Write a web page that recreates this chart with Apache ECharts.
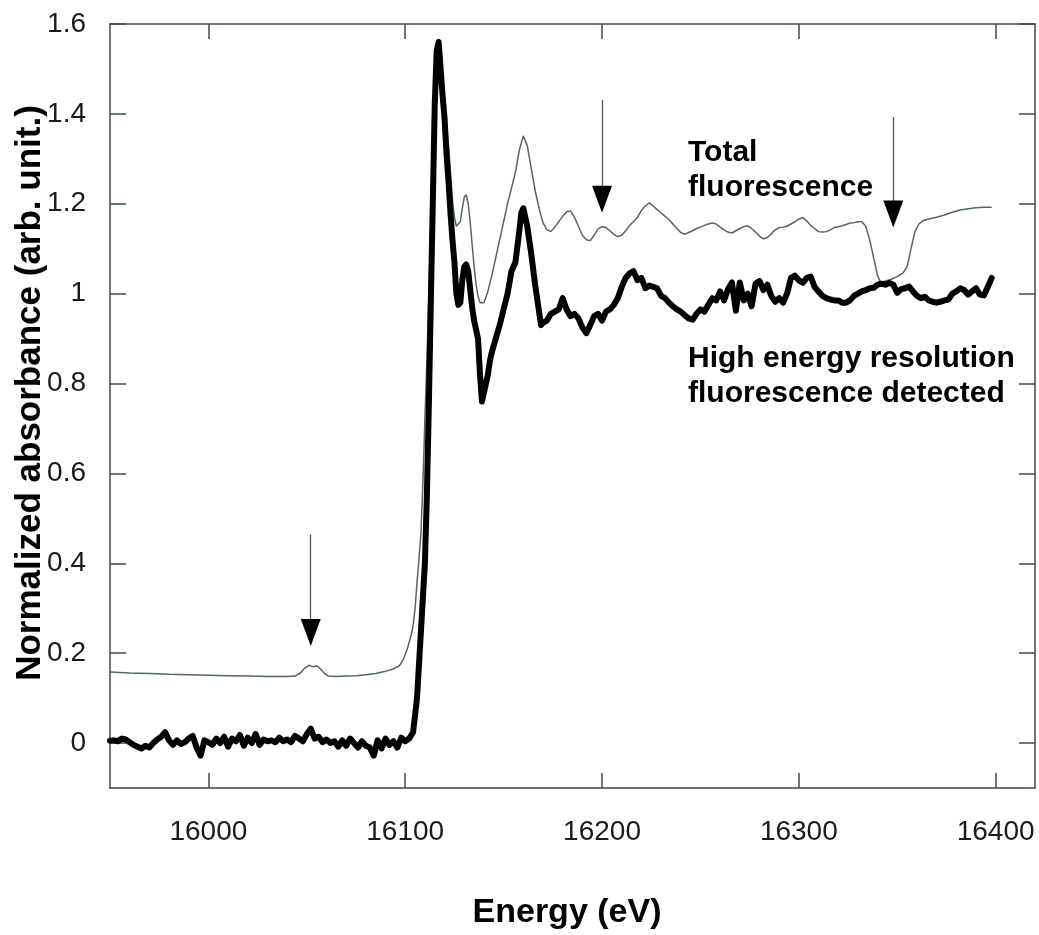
<!DOCTYPE html>
<html>
<head>
<meta charset="utf-8">
<script src="https://cdn.jsdelivr.net/npm/echarts@6/dist/echarts.min.js"></script>
<style>
html,body{margin:0;padding:0;background:#fff;}
#chart{width:1039px;height:935px;}
</style>
</head>
<body>
<div id="chart"></div>
<script>
// ---- data ----
const xTicks = [16000, 16100, 16200, 16300, 16400];
const xTickLabels = ['16000', '16100', '16200', '16300', '16400'];
const yTicks = [0, 0.2, 0.4, 0.6, 0.8, 1, 1.2, 1.4, 1.6];
const yTickLabels = ['0', '0.2', '0.4', '0.6', '0.8', '1', '1.2', '1.4', '1.6'];

// Total fluorescence (thin line)
const totalE = [15950,15960,15970,15980,15990,16000,16010,16020,16030,16040,16044,16047,16049,16051,16053,16055,16057,16059,16061,16065,16070,16075,16080,16085,16090,16094,16097,16099,16101,16103,16104,16105,16106,16107,16108,16109,16110,16111,16112,16113,16114,16115,16116,16117,16118,16119,16120,16121,16122,16123,16124,16125,16126,16127,16128,16129,16130,16131,16132,16133,16134,16135,16136,16137,16138,16139,16140,16142,16144,16146,16148,16150,16152,16154,16156,16158,16160,16161,16162,16164,16166,16168,16170,16172,16174,16176,16178,16180,16182,16184,16186,16188,16190,16192,16194,16196,16198,16200,16202,16204,16206,16208,16210,16212,16214,16216,16218,16220,16222,16224,16226,16228,16230,16232,16234,16236,16238,16240,16242,16244,16246,16248,16250,16252,16254,16256,16258,16260,16262,16264,16266,16268,16270,16272,16274,16276,16278,16280,16282,16284,16286,16288,16290,16292,16294,16296,16298,16300,16302,16304,16306,16308,16310,16312,16314,16316,16318,16320,16322,16324,16326,16328,16330,16332,16334,16336,16338,16340,16341.5,16344,16347,16350,16353,16355,16357,16359,16361,16363,16366,16370,16374,16378,16382,16386,16390,16394,16398];
const totalMu = [0.158,0.156,0.155,0.153,0.152,0.151,0.150,0.149,0.148,0.148,0.149,0.157,0.167,0.173,0.170,0.172,0.165,0.155,0.149,0.148,0.149,0.150,0.152,0.155,0.160,0.165,0.172,0.185,0.209,0.24,0.26,0.30,0.357,0.41,0.469,0.58,0.72,0.85,1.00,1.15,1.30,1.45,1.54,1.55,1.50,1.45,1.41,1.37,1.33,1.27,1.21,1.17,1.15,1.147,1.16,1.19,1.215,1.22,1.20,1.16,1.11,1.06,1.02,0.995,0.98,0.976,0.98,1.005,1.04,1.08,1.12,1.16,1.20,1.235,1.27,1.32,1.351,1.35,1.33,1.28,1.23,1.19,1.158,1.142,1.138,1.148,1.16,1.172,1.182,1.184,1.17,1.15,1.13,1.12,1.118,1.13,1.144,1.149,1.147,1.14,1.132,1.127,1.13,1.14,1.152,1.16,1.17,1.185,1.195,1.202,1.195,1.187,1.18,1.172,1.165,1.155,1.145,1.136,1.132,1.136,1.14,1.145,1.148,1.152,1.155,1.157,1.155,1.148,1.142,1.137,1.135,1.14,1.145,1.149,1.151,1.145,1.137,1.128,1.122,1.125,1.133,1.142,1.147,1.148,1.15,1.155,1.16,1.166,1.169,1.162,1.152,1.145,1.138,1.137,1.138,1.142,1.147,1.149,1.151,1.154,1.157,1.158,1.16,1.16,1.15,1.12,1.08,1.04,1.025,1.028,1.032,1.038,1.046,1.06,1.10,1.138,1.155,1.162,1.166,1.17,1.175,1.181,1.186,1.189,1.191,1.192,1.192];

// High energy resolution fluorescence detected (thick line)
const herfdE = [15950,15952,15954,15956,15958,15960,15962,15964,15966,15968,15970,15972,15974,15976,15978,15980,15982,15984,15986,15988,15990,15992,15994,15996,15998,16000,16002,16004,16006,16008,16010,16012,16014,16016,16018,16020,16022,16024,16026,16028,16030,16032,16034,16036,16038,16040,16042,16044,16046,16048,16050,16052,16054,16056,16058,16060,16062,16064,16066,16068,16070,16072,16074,16076,16078,16080,16082,16084,16086,16088,16090,16092,16094,16096,16098,16100,16102,16104,16106,16108,16110,16111,16112,16113,16114,16115,16116,16117,16118,16119,16120,16121,16122,16123,16124,16125,16126,16127,16128,16129,16130,16131,16132,16133,16134,16135,16136,16137,16138,16139,16140,16141,16142,16143,16144,16146,16148,16150,16152,16154,16156,16158,16159,16160,16161,16162,16164,16166,16168,16169,16170,16172,16174,16176,16178,16180,16182,16184,16186,16188,16190,16192,16194,16196,16198,16200,16202,16204,16206,16208,16210,16212,16214,16216,16218,16220,16222,16224,16226,16228,16230,16232,16234,16236,16238,16240,16242,16244,16246,16248,16250,16252,16254,16256,16258,16260,16262,16264,16266,16268,16270,16272,16274,16276,16278,16280,16282,16284,16286,16288,16290,16292,16294,16296,16298,16300,16302,16304,16306,16308,16310,16312,16314,16316,16318,16320,16322,16324,16326,16328,16330,16332,16334,16336,16338,16340,16342,16344,16346,16348,16350,16352,16354,16356,16358,16360,16362,16364,16366,16368,16370,16372,16374,16376,16378,16380,16382,16384,16386,16388,16390,16392,16394,16396,16398];
const herfdMu = [0.005,0.006,0.004,0.010,0.008,0.002,-0.004,-0.008,-0.012,-0.006,-0.010,0.000,0.008,0.014,0.024,0.006,-0.004,0.006,-0.002,0.002,0.010,0.016,-0.010,-0.028,0.006,0.002,-0.004,0.010,0.000,0.014,-0.008,0.010,0.004,0.018,-0.006,0.012,0.000,0.020,-0.004,0.008,0.004,0.006,0.002,0.012,0.004,0.008,0.002,0.016,0.010,0.004,0.020,0.032,0.010,0.014,0.002,0.008,0.000,0.004,-0.008,0.006,-0.006,0.010,0.000,-0.010,0.004,-0.006,-0.010,-0.028,0.006,-0.012,0.010,-0.004,0.004,-0.010,0.012,0.004,0.010,0.024,0.10,0.25,0.40,0.55,0.75,0.98,1.20,1.42,1.54,1.56,1.50,1.44,1.39,1.31,1.25,1.18,1.12,1.07,1.00,0.975,0.98,1.03,1.06,1.065,1.05,1.01,0.97,0.94,0.92,0.90,0.82,0.76,0.78,0.80,0.82,0.85,0.87,0.90,0.93,0.965,1.00,1.05,1.07,1.14,1.18,1.19,1.17,1.15,1.09,1.02,0.96,0.93,0.935,0.94,0.955,0.96,0.965,0.99,0.965,0.95,0.955,0.945,0.925,0.912,0.93,0.95,0.955,0.94,0.96,0.965,0.975,0.99,1.015,1.035,1.045,1.05,1.03,1.035,1.012,1.018,1.015,1.012,0.995,0.99,0.98,0.972,0.965,0.96,0.952,0.945,0.942,0.955,0.965,0.96,0.975,0.99,0.985,1.005,0.985,1.01,1.025,0.962,1.025,0.985,1.0,0.972,1.022,1.028,1.008,1.02,0.995,0.982,0.99,0.98,1.0,1.035,1.04,1.03,1.024,1.035,1.038,1.015,1.005,0.995,0.99,0.987,0.985,0.985,0.98,0.98,0.985,0.995,1.0,1.005,1.008,1.012,1.013,1.02,1.022,1.02,1.024,1.02,1.002,1.01,1.012,1.016,1.005,0.995,0.99,0.993,0.985,0.982,0.98,0.982,0.985,0.987,1.0,1.005,1.012,1.008,0.998,1.005,1.012,0.998,0.996,1.015,1.035];

// Arrows: energy, top value, value at centre of arrow head
const arrowE   = [16052, 16200, 16348];
const arrowTop = [0.464, 1.431, 1.393];
const arrowEnd = [0.246, 1.210, 1.177];

// ---- chart ----
const FONT = '"Liberation Sans", Arial, Helvetica, sans-serif';
const axisColor = '#3b4a54';
const chart = echarts.init(document.getElementById('chart'), null, {renderer: 'canvas'});

const totalData = totalE.map((e, i) => [e, totalMu[i]]);
const herfdData = herfdE.map((e, i) => [e, herfdMu[i]]);

const arrowLines = [];
arrowE.forEach((e, i) => {
  arrowLines.push([
    {coord: [e, arrowTop[i]], symbol: 'none', lineStyle: {color: '#5b5656', width: 1.3, type: 'solid'}},
    {coord: [e, arrowEnd[i]], symbol: 'none'}
  ]);
  arrowLines.push([
    {coord: [e, arrowEnd[i] + 0.002], symbol: 'none', lineStyle: {color: '#000', width: 1, type: 'solid'}},
    {coord: [e, arrowEnd[i]], symbol: 'triangle'}
  ]);
});

const commonX = {
  type: 'value', min: 15950, max: 16420,
  axisLine: {show: true, onZero: false, lineStyle: {color: axisColor, width: 1.5}},
  axisTick: {show: true, inside: true, length: 15, customValues: xTicks, lineStyle: {color: axisColor, width: 1.5}},
  splitLine: {show: false}
};
const commonY = {
  type: 'value', min: -0.1, max: 1.6,
  axisLine: {show: true, onZero: false, lineStyle: {color: axisColor, width: 1.5}},
  axisTick: {show: true, inside: true, length: 16, customValues: yTicks, lineStyle: {color: axisColor, width: 1.5}},
  splitLine: {show: false}
};

chart.setOption({
  animation: false,
  backgroundColor: '#fff',
  grid: {left: 110, right: 4, top: 24, bottom: 147, containLabel: false},
  xAxis: [
    Object.assign({}, commonX, {position: 'bottom',
      axisLabel: {show: true, customValues: xTicks, margin: 30, color: '#1a1a1a', fontSize: 28, fontFamily: FONT,
        formatter: v => { const k = xTicks.indexOf(v); return k >= 0 ? xTickLabels[k] : ''; }}}),
    Object.assign({}, commonX, {position: 'top', axisLabel: {show: false}})
  ],
  yAxis: [
    Object.assign({}, commonY, {position: 'left',
      axisLabel: {show: true, customValues: yTicks, margin: 24, color: '#1a1a1a', fontSize: 28, fontFamily: FONT,
        formatter: v => { const k = yTicks.findIndex(t => Math.abs(t - v) < 1e-9); return k >= 0 ? yTickLabels[k] : ''; }}}),
    Object.assign({}, commonY, {position: 'right', axisLabel: {show: false}})
  ],
  series: [
    {
      name: 'Total fluorescence', type: 'line', xAxisIndex: 0, yAxisIndex: 0,
      data: totalData, showSymbol: false, symbol: 'none', smooth: false,
      lineStyle: {color: '#56656c', width: 1.5},
      z: 2,
      markLine: {
        silent: true, animation: false,
        symbolSize: [20, 27],
        label: {show: false},
        emphasis: {disabled: true},
        lineStyle: {type: 'solid'},
        data: arrowLines
      }
    },
    {
      name: 'High energy resolution fluorescence detected', type: 'line', xAxisIndex: 0, yAxisIndex: 0,
      data: herfdData, showSymbol: false, symbol: 'none', smooth: false,
      lineStyle: {color: '#000', width: 6, join: 'round', cap: 'round'},
      z: 3
    }
  ],
  graphic: [
    {type: 'text', x: 567, y: 913, style: {text: 'Energy (eV)', align: 'center', verticalAlign: 'middle', font: 'bold 34px ' + FONT, fill: '#000'}},
    {type: 'text', x: 30, y: 393, rotation: Math.PI / 2, style: {text: 'Normalized absorbance (arb. unit.)', align: 'center', verticalAlign: 'middle', font: 'bold 35px ' + FONT, fill: '#000'}},
    {type: 'text', x: 688, y: 153, style: {text: 'Total', align: 'left', verticalAlign: 'middle', font: 'bold 30px ' + FONT, fill: '#000'}},
    {type: 'text', x: 688, y: 188, style: {text: 'fluorescence', align: 'left', verticalAlign: 'middle', font: 'bold 30px ' + FONT, fill: '#000'}},
    {type: 'text', x: 688, y: 359, style: {text: 'High energy resolution', align: 'left', verticalAlign: 'middle', font: 'bold 30px ' + FONT, fill: '#000'}},
    {type: 'text', x: 688, y: 394, style: {text: 'fluorescence detected', align: 'left', verticalAlign: 'middle', font: 'bold 30px ' + FONT, fill: '#000'}}
  ]
});
</script>
</body>
</html>
